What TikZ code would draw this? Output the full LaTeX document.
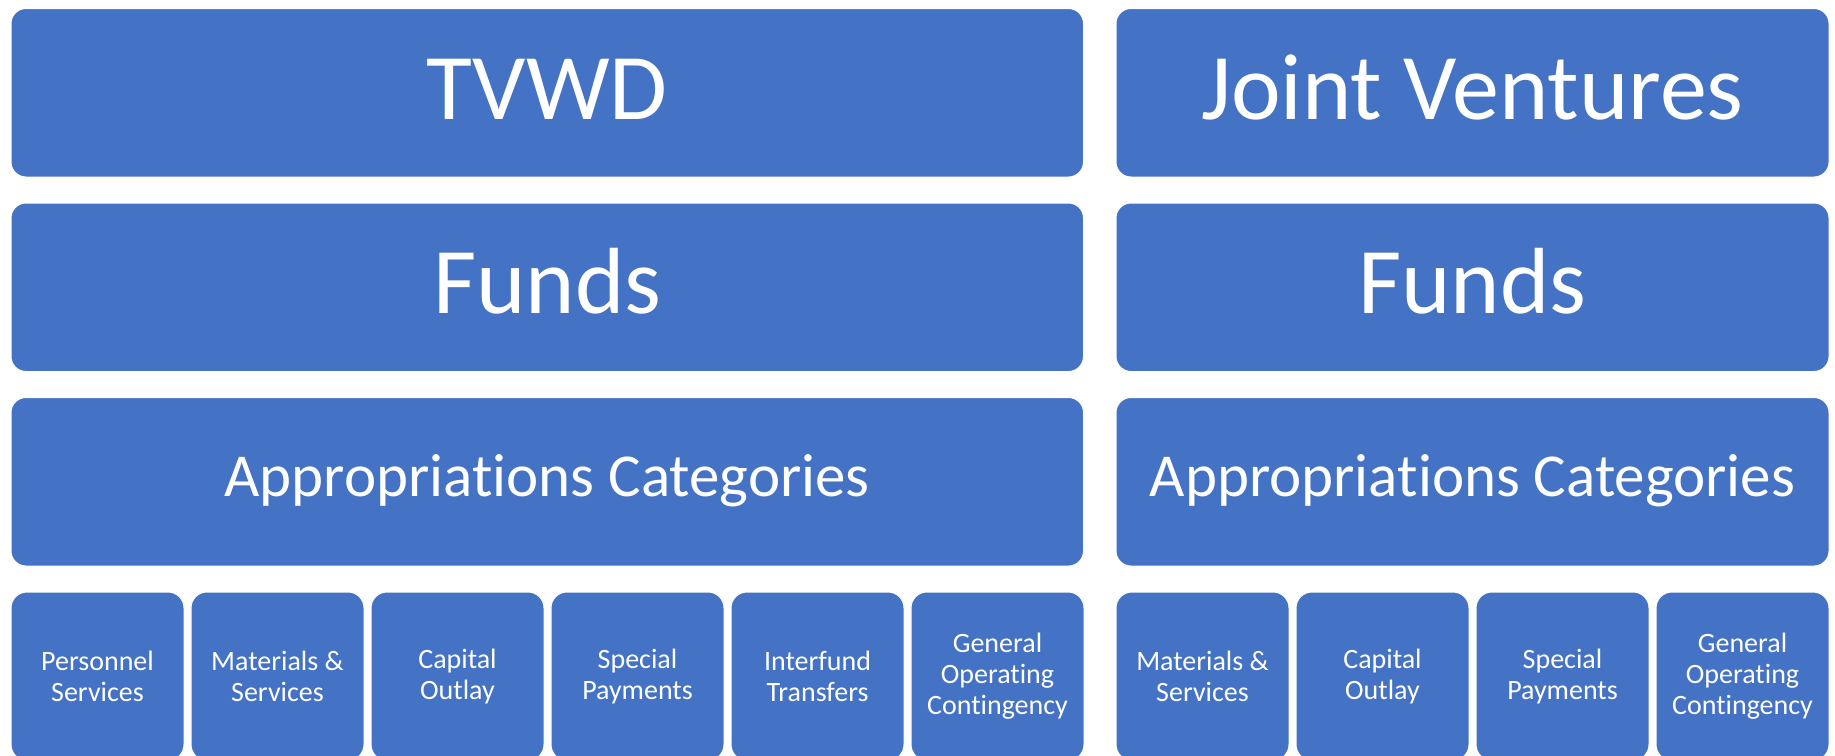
\documentclass[tikz,border=0pt]{standalone}
\usepackage{fontspec}
\setmainfont{Carlito}[Ligatures={NoCommon}]
\definecolor{ofblue}{HTML}{4472C4}
\begin{document}
\begin{tikzpicture}[x=1pt,y=-1pt,
  wide/.style={fill=ofblue, draw=white, line width=1pt, rounded corners=15pt, inner sep=0pt, minimum height=168.5pt},
  leftbox/.style={wide, minimum width=1072.5pt},
  rightbox/.style={wide, minimum width=713pt},
  smallbox/.style={fill=ofblue, draw=white, line width=1pt, rounded corners=16pt, inner sep=0pt,
    minimum width=173pt, minimum height=168.5pt, text=white, align=center,
    font=\fontsize{28}{30.7}\selectfont},
  bigtext/.style={anchor=base, text=white, inner sep=0pt, font=\fontsize{94}{100}\selectfont},
  midtext/.style={anchor=base, text=white, inner sep=0pt, font=\fontsize{61}{67}\selectfont}
]
\useasboundingbox (0,0) rectangle (1835,755);
\clip (0,0) rectangle (1835,755);

% left column
\node[leftbox] (tvwd) at (547.25,92.75) {};
\node[leftbox] (lfunds) at (547.25,287.25) {};
\node[leftbox] (lapp) at (547.25,481.75) {};
% right column
\node[rightbox] (jv) at (1472.5,92.75) {};
\node[rightbox] (rfunds) at (1472.5,287.25) {};
\node[rightbox] (rapp) at (1472.5,481.75) {};

\path (tvwd.center) ++(0,26.5) node[bigtext] (tvwdt) {TVWD};
\path (jv.center) ++(0,26.5) node[bigtext] (jvt) {Joint Ventures};
\path (lfunds.center) ++(0,26.5) node[bigtext] (lfundst) {Funds};
\path (rfunds.center) ++(0,26.5) node[bigtext] (rfundst) {Funds};
\path (lapp.center) ++(0,15) node[midtext] (lappt) {Appropriations Categories};
\path (rapp.center) ++(0,15) node[midtext] (rappt) {Appropriations Categories};

% bottom row, left
\node[smallbox] (l1) at (97.5,676.25) {Personnel\\Services};
\node[smallbox] (l2) at (277.5,676.25) {Materials \&\\Services};
\node[smallbox] (l3) at (457.5,676.25) {Capital\\Outlay};
\node[smallbox] (l4) at (637.5,676.25) {Special\\Payments};
\node[smallbox] (l5) at (817.5,676.25) {Interfund\\Transfers};
\node[smallbox] (l6) at (997.5,676.25) {General\\Operating\\Contingency};
% bottom row, right
\node[smallbox] (r1) at (1202.5,676.25) {Materials \&\\Services};
\node[smallbox] (r2) at (1382.5,676.25) {Capital\\Outlay};
\node[smallbox] (r3) at (1562.5,676.25) {Special\\Payments};
\node[smallbox] (r4) at (1742.5,676.25) {General\\Operating\\Contingency};
\end{tikzpicture}
\end{document}
